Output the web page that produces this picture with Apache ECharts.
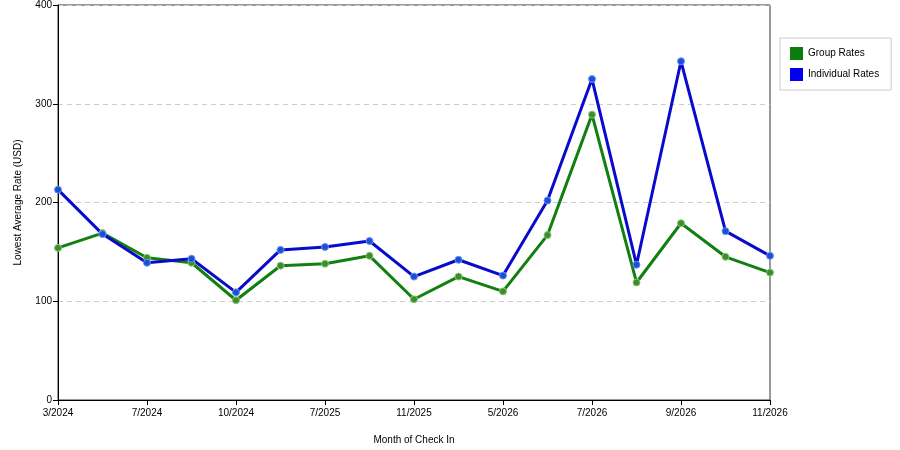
<!DOCTYPE html>
<html>
<head>
<meta charset="utf-8">
<script src="https://cdn.jsdelivr.net/npm/echarts@6/dist/echarts.min.js"></script>
<style>
  html, body { margin: 0; padding: 0; background: #fff; }
  #chart { width: 900px; height: 450px; }
</style>
</head>
<body>
<div id="chart"></div>
<script>
var months = ['3/2024', '5/2024', '7/2024', '8/2024', '10/2024', '5/2025', '7/2025', '9/2025',
  '11/2025', '3/2026', '5/2026', '6/2026', '7/2026', '8/2026', '9/2026', '10/2026', '11/2026'];
var groupRates = [154, 169, 144, 139, 101, 136, 138, 146, 102, 125, 110, 167, 289, 119, 179, 145, 129];
var individualRates = [213, 168, 139, 143, 109, 152, 155, 161, 125, 142, 126, 202, 325, 137, 343, 171, 146];
var yTicks = [0, 100, 200, 300, 400];

var myChart = echarts.init(document.getElementById('chart'));
var font = 'Liberation Sans';

var option = {
    animation: false,
    textStyle: { fontFamily: font },
    grid: {
        left: 58,
        right: 130,
        top: 5,
        bottom: 50,
        show: true,
        borderColor: '#333',
        borderWidth: 1
    },
    legend: {
        orient: 'vertical',
        left: 780,
        top: 38,
        padding: [9, 12, 9, 10],
        itemGap: 8,
        itemWidth: 13,
        itemHeight: 13,
        icon: 'rect',
        borderColor: '#ccc',
        borderWidth: 1,
        textStyle: { fontSize: 10, color: '#000', fontFamily: font },
        data: [
            { name: 'Group Rates', itemStyle: { color: '#0a7d0a', borderWidth: 0 } },
            { name: 'Individual Rates', itemStyle: { color: '#0000ee', borderWidth: 0 } }
        ]
    },
    xAxis: {
        type: 'category',
        data: months,
        boundaryGap: false,
        name: 'Month of Check In',
        nameLocation: 'middle',
        nameGap: 35,
        nameTextStyle: { fontSize: 10, color: '#000' },
        axisLine: { lineStyle: { color: '#000' } },
        axisTick: { interval: 1, length: 5, lineStyle: { color: '#000' } },
        axisLabel: { interval: 1, fontSize: 10, color: '#000', margin: 8 },
        splitLine: { show: false }
    },
    yAxis: {
        type: 'value',
        min: yTicks[0],
        max: yTicks[yTicks.length - 1],
        interval: 100,
        name: 'Lowest Average Rate (USD)',
        nameLocation: 'middle',
        nameGap: 35,
        nameTextStyle: { fontSize: 10, color: '#000' },
        axisLine: { show: true, lineStyle: { color: '#000' } },
        axisTick: { show: true, length: 5, lineStyle: { color: '#000' } },
        axisLabel: { fontSize: 10, color: '#000', margin: 6 },
        splitLine: { show: true, lineStyle: { color: '#ccc', type: [5, 4] } }
    },
    series: [
        {
            name: 'Group Rates',
            type: 'line',
            data: groupRates,
            symbol: 'circle',
            symbolSize: 7,
            lineStyle: { width: 3, color: '#118011' },
            itemStyle: { color: '#3a8f2a', borderColor: '#8cc47a', borderWidth: 1 }
        },
        {
            name: 'Individual Rates',
            type: 'line',
            data: individualRates,
            symbol: 'circle',
            symbolSize: 7,
            lineStyle: { width: 3, color: '#0a0acc' },
            itemStyle: { color: '#1a4fd8', borderColor: '#6a8ff0', borderWidth: 1 }
        }
    ]
};
myChart.setOption(option);
</script>
</body>
</html>
